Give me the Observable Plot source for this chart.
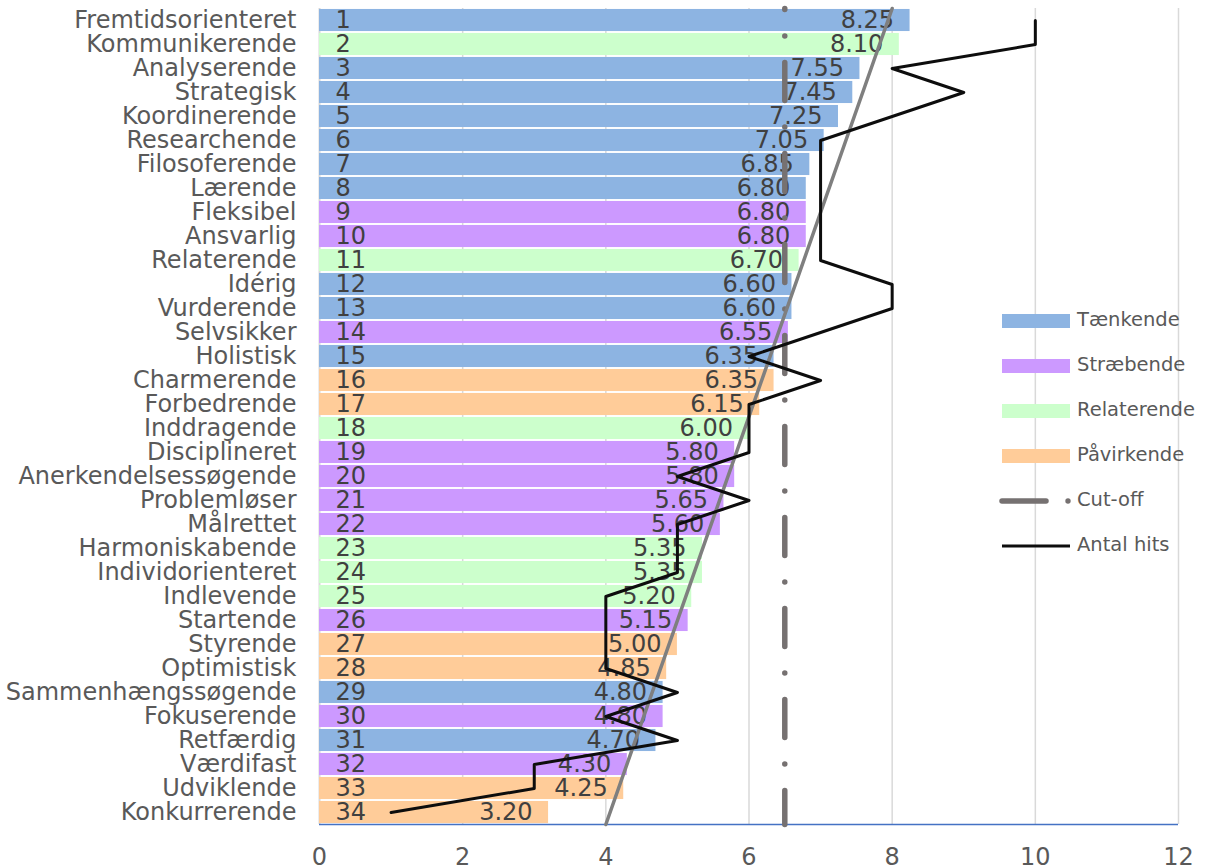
<!DOCTYPE html>
<html><head><meta charset="utf-8">
<script src="https://cdn.jsdelivr.net/npm/d3@7"></script>
<script src="https://cdn.jsdelivr.net/npm/@observablehq/plot@0.6"></script>
<style>
body{margin:0;background:#fff;}
#wrap{position:relative;width:1205px;height:868px;font-family:"DejaVu Sans",sans-serif;}
#legend{position:absolute;left:998px;top:298px;font-family:"DejaVu Sans",sans-serif;font-size:19.5px;color:#595959;}
.item{position:relative;height:45px;width:205px;}
.item svg{position:absolute;left:0;top:0;}
.item span{position:absolute;left:79px;top:10px;white-space:nowrap;}
</style></head><body><div id="wrap"><div id="chart"></div><div id="legend"></div></div>
<script>
const names = ["Fremtidsorienteret","Kommunikerende","Analyserende","Strategisk","Koordinerende","Researchende","Filosoferende","Lærende","Fleksibel","Ansvarlig","Relaterende","Idérig","Vurderende","Selvsikker","Holistisk","Charmerende","Forbedrende","Inddragende","Disciplineret","Anerkendelsessøgende","Problemløser","Målrettet","Harmoniskabende","Individorienteret","Indlevende","Startende","Styrende","Optimistisk","Sammenhængssøgende","Fokuserende","Retfærdig","Værdifast","Udviklende","Konkurrerende"];
const values = [8.25,8.10,7.55,7.45,7.25,7.05,6.85,6.80,6.80,6.80,6.70,6.60,6.60,6.55,6.35,6.35,6.15,6.00,5.80,5.80,5.65,5.60,5.35,5.35,5.20,5.15,5.00,4.85,4.80,4.80,4.70,4.30,4.25,3.20];
const groupOf = ["Tænkende","Relaterende","Tænkende","Tænkende","Tænkende","Tænkende","Tænkende","Tænkende","Stræbende","Stræbende","Relaterende","Tænkende","Tænkende","Stræbende","Tænkende","Påvirkende","Påvirkende","Relaterende","Stræbende","Stræbende","Stræbende","Stræbende","Relaterende","Relaterende","Relaterende","Stræbende","Påvirkende","Påvirkende","Tænkende","Stræbende","Tænkende","Stræbende","Påvirkende","Påvirkende"];
const hits = [10,10,8,9,8,7,7,7,7,7,7,8,8,7,6,7,6,6,6,5,6,5,5,5,4,4,4,4,5,4,5,3,3,1];
const groupNames = ["Tænkende","Stræbende","Relaterende","Påvirkende"];
const groupColors = ["#8DB4E2","#CC99FF","#CCFFCC","#FFCC99"];
const cutoff = 6.5;
const trendEnds = [8, 4];
const xTicks = [0,2,4,6,8,10,12];

const n = names.length;
const data = names.map((name,i)=>({rank:i+1,name,value:values[i],group:groupOf[i],hits:hits[i]}));
const yTop = 0.5, yBottom = n + 0.5;
const cutLine = [{x:cutoff,y:yTop},{x:cutoff,y:yBottom}];
const trendLine = [{x:trendEnds[0],y:yTop},{x:trendEnds[1],y:yBottom}];

const chart = Plot.plot({
  width:1205, height:868,
  marginTop:8, marginBottom:44, marginLeft:319, marginRight:27,
  style:{fontFamily:"DejaVu Sans", fontSize:"24px", color:"#595959", background:"white"},
  x:{domain:[0,12], ticks:xTicks, tickSize:0, tickPadding:23, label:null},
  y:{domain:[yTop,yBottom], reverse:true, ticks:data.map(d=>d.rank), tickFormat:r=>names[r-1], tickSize:0, tickPadding:23, label:null},
  color:{domain:groupNames, range:groupColors},
  marks:[
    Plot.ruleX(xTicks.filter(d=>d>0), {stroke:"#d9d9d9", strokeWidth:1.5}),
    Plot.ruleX([0], {stroke:"#d9d9d9", strokeWidth:2}),
    Plot.rectX(data, {x1:0, x2:"value", y1:d=>d.rank-0.46, y2:d=>d.rank+0.46, fill:"group"}),
    Plot.ruleY([yBottom], {stroke:"#4472C4", strokeWidth:1.5}),
    Plot.text(data, {x:0, y:"rank", text:d=>String(d.rank), textAnchor:"start", dx:16, fill:"#404040", fontSize:24}),
    Plot.text(data, {x:"value", y:"rank", text:d=>d.value.toFixed(2), textAnchor:"end", dx:-16, fill:"#404040", fontSize:24}),
    Plot.line(cutLine, {x:"x", y:"y", stroke:"#767171", strokeWidth:5.5, strokeDasharray:"38 26.5 0 26.5", strokeLinecap:"round", strokeDashoffset:37}),
    Plot.line(trendLine, {x:"x", y:"y", stroke:"#7F7F7F", strokeWidth:3.5}),
    Plot.line(data, {x:"hits", y:"rank", stroke:"#0d0d0d", strokeWidth:3})
  ]
});
document.getElementById("chart").appendChild(chart);

const legendItems = groupNames.map((g,i)=>({label:g, type:"bar", color:groupColors[i]}))
  .concat([{label:"Cut-off", type:"cut"},{label:"Antal hits", type:"hits"}]);
const leg = document.getElementById("legend");
legendItems.forEach(it=>{
  const div = document.createElement("div");
  div.className = "item";
  let sym = "";
  if (it.type==="bar") sym = `<rect x="4" y="16" width="68" height="14" fill="${it.color}"/>`;
  else if (it.type==="cut") sym = `<line x1="4" y1="23" x2="48" y2="23" stroke="#767171" stroke-width="5.5" stroke-linecap="round"/><circle cx="70" cy="23" r="2.7" fill="#767171"/>`;
  else sym = `<line x1="4" y1="23" x2="72" y2="23" stroke="#0d0d0d" stroke-width="3"/>`;
  div.innerHTML = `<svg width="78" height="45">${sym}</svg><span>${it.label}</span>`;
  leg.appendChild(div);
});
</script></body></html>
